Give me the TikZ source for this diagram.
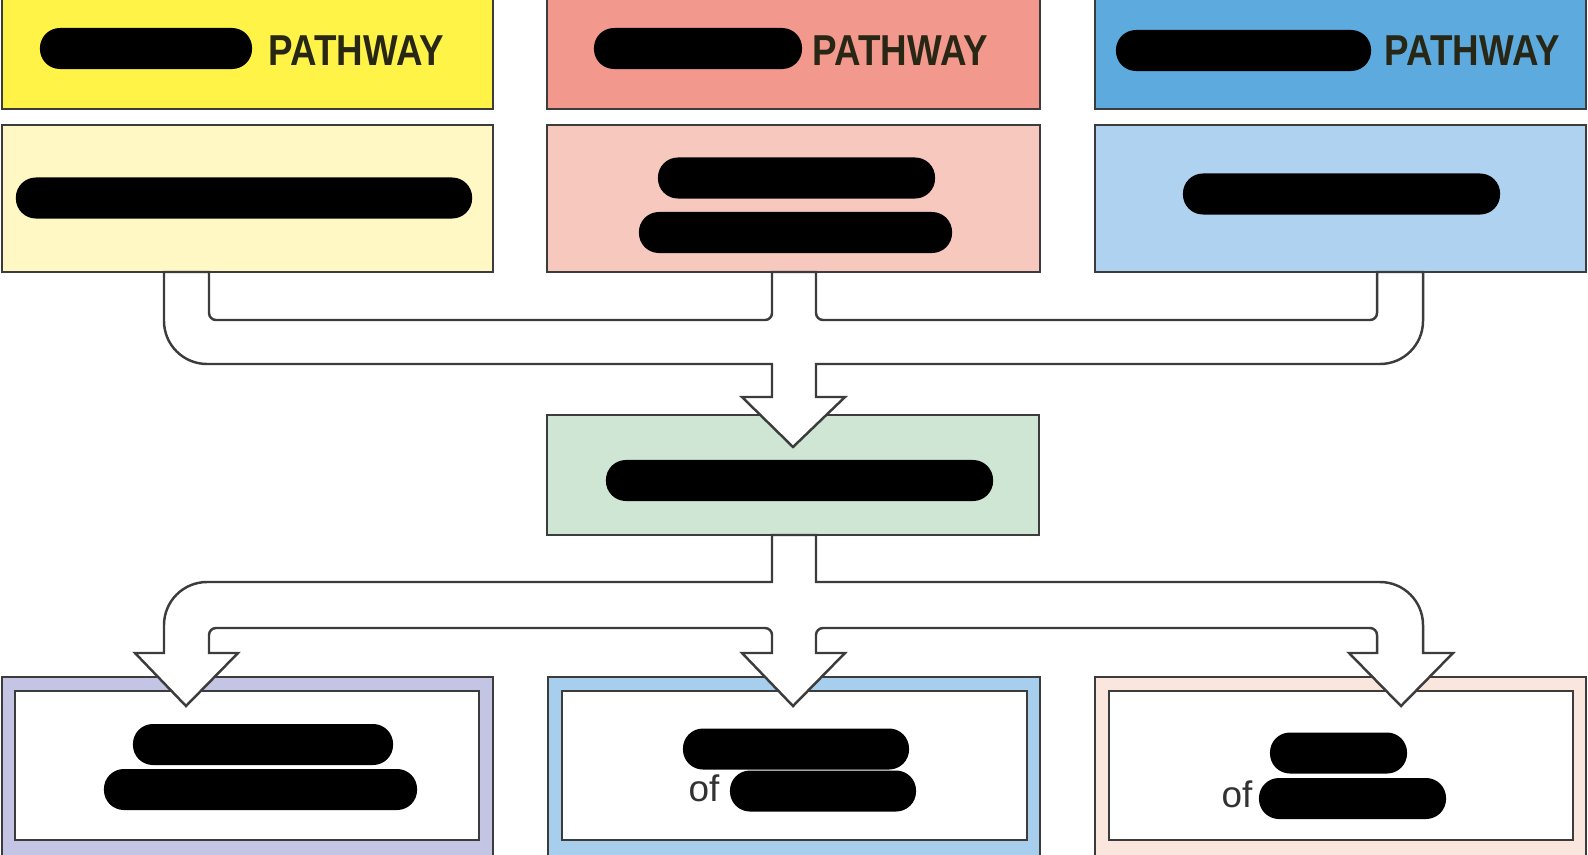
\documentclass[tikz,border=0pt]{standalone}
\usepackage{fontspec}
\setsansfont{Liberation Sans}
\definecolor{linec}{RGB}{60,60,60}
\definecolor{hdryellow}{RGB}{255,243,72}
\definecolor{bodyyellow}{RGB}{255,248,196}
\definecolor{hdrsalmon}{RGB}{242,152,140}
\definecolor{bodysalmon}{RGB}{247,200,190}
\definecolor{hdrblue}{RGB}{92,170,222}
\definecolor{bodyblue}{RGB}{174,210,240}
\definecolor{midgreen}{RGB}{208,230,213}
\definecolor{framelav}{RGB}{196,196,228}
\definecolor{frameblue}{RGB}{168,206,238}
\definecolor{framepeach}{RGB}{251,230,221}
\definecolor{hdrtextc}{RGB}{40,38,20}
\definecolor{oftextc}{RGB}{50,50,50}
\newcommand{\pathlbl}{\scalebox{0.85}[1]{PATHWAY}}
\tikzset{
  box/.style={draw=linec, line width=0.7pt, inner sep=0pt},
  pill/.style={fill=black, rounded corners=0.2cm, minimum height=0.41cm, inner sep=0pt},
  hdrtext/.style={font=\sffamily\bfseries\fontsize{12.3}{14}\selectfont, text=hdrtextc, inner sep=0pt, anchor=base west},
  oftext/.style={font=\sffamily\fontsize{10.5}{12}\selectfont, text=oftextc, inner sep=0pt, anchor=base east},
  blockarrow/.style={draw=linec, line width=0.7pt, fill=white, line join=miter}
}
\begin{document}
\begin{tikzpicture}[x=0.01cm, y=-0.01cm]
\useasboundingbox (0,0) rectangle (1588,854);
% pathway headers
\node[box, fill=hdryellow, minimum width=4.91cm, minimum height=1.11cm] (yhead) at (247.5,53.5) {};
\node[box, fill=hdrsalmon, minimum width=4.93cm, minimum height=1.11cm] (shead) at (793.5,53.5) {};
\node[box, fill=hdrblue, minimum width=4.91cm, minimum height=1.11cm] (bhead) at (1340.5,53.5) {};
\node[pill, minimum width=2.12cm] (yhead-red) at (146,48.5) {};
\node[pill, minimum width=2.08cm] (shead-red) at (698,48.5) {};
\node[pill, minimum width=2.55cm] (bhead-red) at (1243.5,50.5) {};
\node[hdrtext] (yhead-txt) at (268,65) {\pathlbl};
\node[hdrtext] (shead-txt) at (812,65) {\pathlbl};
\node[hdrtext] (bhead-txt) at (1384,65) {\pathlbl};
% pathway bodies
\node[box, fill=bodyyellow, minimum width=4.91cm, minimum height=1.47cm] (ybody) at (247.5,198.5) {};
\node[box, fill=bodysalmon, minimum width=4.93cm, minimum height=1.47cm] (sbody) at (793.5,198.5) {};
\node[box, fill=bodyblue, minimum width=4.91cm, minimum height=1.47cm] (bbody) at (1340.5,198.5) {};
\node[pill, minimum width=4.56cm] (ybody-red) at (244,198) {};
\node[pill, minimum width=2.77cm] (sbody-red1) at (796.5,178) {};
\node[pill, minimum width=3.13cm] (sbody-red2) at (795.5,232.5) {};
\node[pill, minimum width=3.17cm] (bbody-red) at (1341.5,194) {};
% middle box
\node[box, fill=midgreen, minimum width=4.92cm, minimum height=1.2cm] (mid) at (793,475) {};
\node[pill, minimum width=3.87cm] (mid-red) at (799.5,480.5) {};
% outcome boxes
\node[box, fill=framelav, minimum width=4.91cm, minimum height=1.93cm] (lout) at (247.5,773.5) {};
\node[box, fill=frameblue, minimum width=4.92cm, minimum height=1.93cm] (cout) at (794,773.5) {};
\node[box, fill=framepeach, minimum width=4.91cm, minimum height=1.93cm] (rout) at (1340.5,773.5) {};
\node[box, fill=white, minimum width=4.64cm, minimum height=1.49cm] (lin) at (247,765.5) {};
\node[box, fill=white, minimum width=4.65cm, minimum height=1.49cm] (cin) at (794.5,765.5) {};
\node[box, fill=white, minimum width=4.64cm, minimum height=1.49cm] (rin) at (1341,765.5) {};
\node[pill, minimum width=2.6cm] (lin-red1) at (263,744.5) {};
\node[pill, minimum width=3.13cm] (lin-red2) at (260.5,789.5) {};
\node[pill, minimum width=2.26cm] (cin-red1) at (796,749) {};
\node[pill, minimum width=1.86cm] (cin-red2) at (823,791) {};
\node[oftext] (cin-of) at (720,801) {of};
\node[pill, minimum width=1.37cm] (rin-red1) at (1338.5,753) {};
\node[pill, minimum width=1.87cm] (rin-red2) at (1352.5,798.5) {};
\node[oftext] (rin-of) at (1253,807) {of};
% merging arrow
\draw[blockarrow] (164,272) -- (209,272) [rounded corners=0.07cm] -- (209,320) -- (772,320)
  [sharp corners] -- (772,272) -- (816,272) [rounded corners=0.07cm] -- (816,320) -- (1377,320)
  [sharp corners] -- (1377,272) -- (1423,272) [rounded corners=0.43cm] -- (1423,364)
  [sharp corners] -- (816,364) -- (816,397) -- (845,397) -- (793,447) -- (742,397) -- (772,397)
  -- (772,364) [rounded corners=0.43cm] -- (164,364) [sharp corners] -- cycle;
% splitting arrow
\draw[blockarrow] (772,535) -- (772,582) [rounded corners=0.43cm] -- (164,582)
  [sharp corners] -- (164,653) -- (135,653) -- (186,706) -- (238,653) -- (209,653)
  [rounded corners=0.07cm] -- (209,628) -- (772,628) [sharp corners] -- (772,653) -- (742,653)
  -- (793,706) -- (845,653) -- (816,653) [rounded corners=0.07cm] -- (816,628) -- (1377,628)
  [sharp corners] -- (1377,653) -- (1349,653) -- (1401,706) -- (1453,653) -- (1423,653)
  [rounded corners=0.43cm] -- (1423,582) [sharp corners] -- (816,582) -- (816,535) -- cycle;
\end{tikzpicture}
\end{document}
